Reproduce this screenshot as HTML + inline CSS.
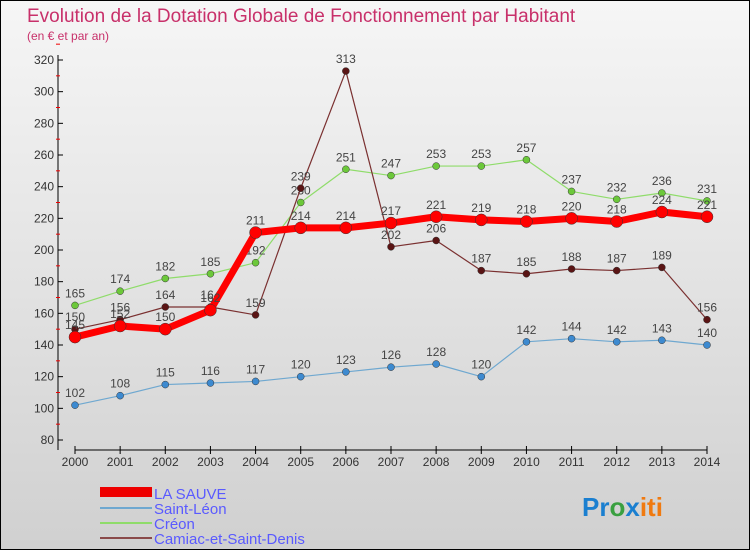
<!DOCTYPE html>
<html><head><meta charset="utf-8"><style>
body{margin:0}
#c{width:750px;height:550px;position:relative;overflow:hidden;font-family:"Liberation Sans",sans-serif;}
</style></head><body>
<div id="c">
<svg id="s" width="750" height="550" xmlns="http://www.w3.org/2000/svg">
<defs><linearGradient id="bg" x1="0" y1="0" x2="0" y2="1"><stop offset="0" stop-color="#f6f6f6"/><stop offset="1" stop-color="#d0d0d0"/></linearGradient></defs>
<rect x="0.5" y="0.5" width="749" height="549" fill="url(#bg)" stroke="#000"/>
<text x="27" y="22" font-size="19" fill="#c8306a">Evolution de la Dotation Globale de Fonctionnement par Habitant</text>
<text x="27" y="40" font-size="12" fill="#c8306a">(en € et par an)</text>
<g id="axes"></g><g id="series"></g>
<g>
<rect x="100" y="487" width="52" height="10" fill="#e00"/>
<text x="154" y="499" font-size="15" fill="#5a5aff">LA SAUVE</text>
<line x1="100" y1="508" x2="152" y2="508" stroke="#6fa8d0" stroke-width="2"/>
<text x="154" y="514" font-size="15" fill="#5a5aff">Saint-Léon</text>
<line x1="100" y1="523" x2="152" y2="523" stroke="#8fdc6a" stroke-width="2"/>
<text x="154" y="529" font-size="15" fill="#5a5aff">Créon</text>
<line x1="100" y1="538" x2="152" y2="538" stroke="#8a4a4a" stroke-width="2"/>
<text x="154" y="544" font-size="15" fill="#5a5aff">Camiac-et-Saint-Denis</text>
</g>
<text x="582" y="516" font-size="26" font-weight="bold"><tspan fill="#1a7fd0">Pr</tspan><tspan fill="#3aa040">o</tspan><tspan fill="#1a7fd0">x</tspan><tspan fill="#f07a10">iti</tspan></text>
</svg>
</div>
<script>
const years=[2000,2001,2002,2003,2004,2005,2006,2007,2008,2009,2010,2011,2012,2013,2014];
const yTicks=[80,100,120,140,160,180,200,220,240,260,280,300,320];
const laSauve=[145,152,150,162,211,214,214,217,221,219,218,220,218,224,221];
const saintLeon=[102,108,115,116,117,120,123,126,128,120,142,144,142,143,140];
const creon=[165,174,182,185,192,230,251,247,253,253,257,237,232,236,231];
const camiac=[150,156,164,164,159,239,313,202,206,187,185,188,187,189,156];
const NS="http://www.w3.org/2000/svg";
const x=i=>75+(707-75)*(i)/(years.length-1);
const y=v=>440-(v-80)*380/240;
function mk(t,a,p){const e=document.createElementNS(NS,t);for(const k in a)e.setAttribute(k,a[k]);p.appendChild(e);return e;}
const ax=document.getElementById('axes');
const yl=mk('line',{x1:58,y1:55,x2:58,y2:450,stroke:'#000'},ax);


const xl=mk('line',{x1:75,y1:450,x2:707,y2:450,stroke:'#000'},ax);


yTicks.forEach(v=>{
 mk('line',{x1:58,y1:y(v),x2:63,y2:y(v),stroke:'#000'},ax);
 mk('line',{x1:56,y1:y(v+10),x2:60,y2:y(v+10),stroke:'#e00'},ax);
 const t=mk('text',{x:54,y:y(v)+4,'font-size':12,fill:'#333','text-anchor':'end'},ax);t.textContent=v;
 
 
});
years.forEach((yr,i)=>{
 mk('line',{x1:x(i),y1:446,x2:x(i),y2:454,stroke:'#000'},ax);
 const t=mk('text',{x:x(i),y:466,'font-size':12,fill:'#333','text-anchor':'middle'},ax);t.textContent=yr;
 
 
});
const sg=document.getElementById('series');
function draw(data,name,color,w,r,dot){
 const g=mk('g',{},sg);
 
 
 mk('polyline',{points:data.map((v,i)=>x(i)+','+y(v)).join(' '),fill:'none',stroke:color,'stroke-width':w,'stroke-linejoin':'round'},g);
 data.forEach((v,i)=>{
  const c=mk('circle',{cx:x(i),cy:y(v),r:r,fill:dot,stroke:'#333','stroke-width':0.5},g);
  
  
  const t=mk('text',{x:x(i),y:y(v)-8,'font-size':12,fill:'#444','text-anchor':'middle'},g);t.textContent=v;
  
  
 });
}
draw(saintLeon,'saint-leon-series','#6fa8d0',1.2,3.5,'#3d8ad0');
draw(creon,'creon-series','#8fdc6a',1.2,3.5,'#6cc83a');
draw(camiac,'camiac-series','#7a3030',1.2,3.5,'#5a1414');
draw(laSauve,'la-sauve-series','#f00',7,6,'#f00');
</script>
</body></html>
